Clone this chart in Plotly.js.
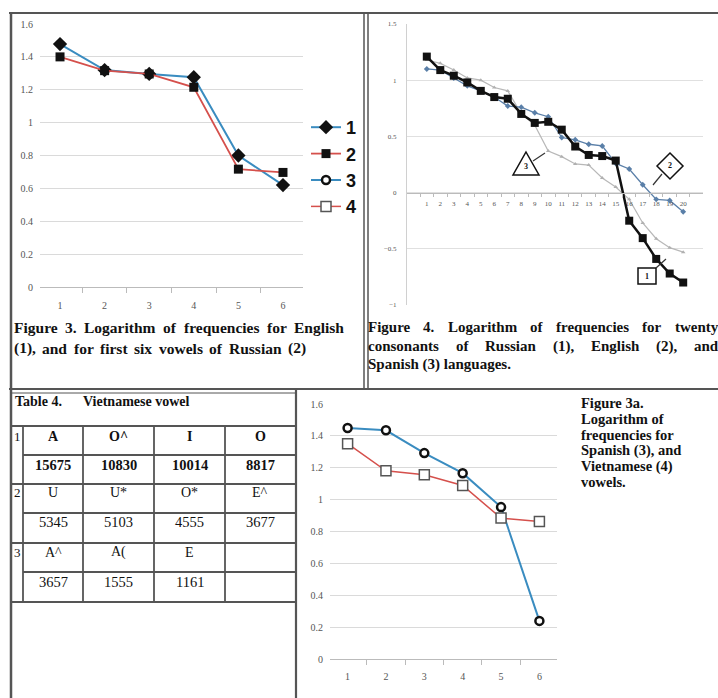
<!DOCTYPE html>
<html><head><meta charset="utf-8">
<script src="https://cdn.plot.ly/plotly-3.0.1.min.js"></script>
<style>html,body{margin:0;padding:0;background:#fff}#chart{width:718px;height:698px}</style>
</head><body><div id="chart"></div>
<script>
// ---------- DATA ----------
// Figure 3: first six vowels
const vowelRanks = ['1','2','3','4','5','6'];
const english = [1.478, 1.320, 1.296, 1.276, 0.800, 0.620];
const russianV = [1.400, 1.316, 1.296, 1.215, 0.717, 0.697];
// Figure 3a
const spanishV = [1.449, 1.435, 1.292, 1.166, 0.953, 0.239];
const vietnameseV = [1.351, 1.181, 1.156, 1.089, 0.884, 0.863];
// Figure 4: twenty consonants
const consRanks = ['1','2','3','4','5','6','7','8','9','10','11','12','13','14','15','16','17','18','19','20'];
const russianC = [1.21, 1.09, 1.04, 0.98, 0.905, 0.85, 0.835, 0.70, 0.62, 0.63, 0.56, 0.41, 0.335, 0.325, 0.285, -0.25, -0.405, -0.59, -0.72, -0.80];
const englishC = [1.10, 1.09, 1.02, 0.95, 0.905, 0.85, 0.77, 0.76, 0.71, 0.675, 0.49, 0.47, 0.43, 0.415, 0.26, 0.21, 0.07, -0.06, -0.07, -0.17];
const spanishC = [1.18, 1.15, 1.09, 1.02, 1.00, 0.935, 0.905, 0.70, 0.60, 0.37, 0.32, 0.255, 0.245, 0.13, 0.05, -0.06, -0.27, -0.41, -0.49, -0.53];
// Table 4
const tableTitle = 'Table 4.';
const tableSubtitle = 'Vietnamese vowel';
const tableGroups = ['1','2','3'];
const tableVowels = [['A','O^','I','O'],['U','U*','O*','E^'],['A^','A(','E','']];
const tableCounts = [['15675','10830','10014','8817'],['5345','5103','4555','3677'],['3657','1555','1161','']];
// Captions
const cap3 = ['Figure 3. Logarithm of frequencies for English', '(1), and for  first six vowels of Russian (2)'];
const cap4 = ['Figure 4. Logarithm of frequencies for twenty', 'consonants of Russian (1), English (2), and', 'Spanish (3) languages.'];
const cap3a = ['Figure 3a.', 'Logarithm of', 'frequencies for', 'Spanish (3), and', 'Vietnamese (4)', 'vowels.'];

// ---------- helpers ----------
const W = 718, H = 698;
const px = x => x / W;
const py = y => 1 - y / H;
const SERIF = 'Liberation Serif, Times New Roman, serif';
const BORDER = '#555';
function line(x0, y0, x1, y1, w, c) {
  return {type:'line', xref:'paper', yref:'paper', x0:px(x0), y0:py(y0), x1:px(x1), y1:py(y1),
          line:{color:c || BORDER, width:w || 1.5}, layer:'above'};
}
function txt(x, y, text, size, bold, anchor, color) {
  return {xref:'paper', yref:'paper', x:px(x), y:py(y), text:text, showarrow:false,
          xanchor:anchor || 'center', yanchor:'middle', borderpad:0,
          font:{family:SERIF, size:size || 13, color:color || '#111', weight: bold ? 'bold' : 'normal'}};
}
const ctx = document.createElement('canvas').getContext('2d');
function measure(s, size, bold) {
  ctx.font = (bold ? 'bold ' : '') + size + 'px "Liberation Serif"';
  return ctx.measureText(s).width;
}
function justified(lineText, x0, x1, y, size) {
  const words = lineText.split(/\s+/);
  const widths = words.map(w => measure(w, size, true));
  const total = widths.reduce((a, b) => a + b, 0);
  const gap = (x1 - x0 - total) / (words.length - 1);
  const out = []; let x = x0;
  words.forEach((w, i) => { out.push(txt(x, y, w, size, true, 'left')); x += widths[i] + gap; });
  return out;
}

const BLUE = '#3a8cc0', RED = '#d5504c';
const tickFont = {family:SERIF, size:10, color:'#555'};

// ---------- traces ----------
const traces = [
  {x:vowelRanks, y:english, name:'1', xaxis:'x', yaxis:'y', mode:'lines+markers',
   line:{color:BLUE, width:2}, marker:{symbol:'diamond', size:11, color:'#111'}},
  {x:vowelRanks, y:russianV, name:'2', xaxis:'x', yaxis:'y', mode:'lines+markers',
   line:{color:RED, width:1.8}, marker:{symbol:'square', size:9, color:'#111'}},
  {x:vowelRanks, y:spanishV, name:'3', xaxis:'x3', yaxis:'y3', mode:'lines+markers',
   line:{color:BLUE, width:2}, marker:{symbol:'circle', size:8, color:'#fff', line:{color:'#111', width:2.5}}},
  {x:vowelRanks, y:vietnameseV, name:'4', xaxis:'x3', yaxis:'y3', mode:'lines+markers',
   line:{color:RED, width:1.5}, marker:{symbol:'square', size:10, color:'#fff', line:{color:'#555', width:1.5}}},
  {x:consRanks, y:spanishC, name:'Spanish', xaxis:'x2', yaxis:'y2', mode:'lines+markers', showlegend:false,
   line:{color:'#b8b8b8', width:1.2}, marker:{symbol:'triangle-up', size:4, color:'#b0b0b0'}},
  {x:consRanks, y:englishC, name:'English', xaxis:'x2', yaxis:'y2', mode:'lines+markers', showlegend:false,
   line:{color:'#5a7fa8', width:1.3}, marker:{symbol:'diamond', size:4.5, color:'#5a7fa8'}},
  {x:consRanks, y:russianC, name:'Russian', xaxis:'x2', yaxis:'y2', mode:'lines+markers', showlegend:false,
   line:{color:'#111', width:2.5}, marker:{symbol:'square', size:8, color:'#111'}}
];

// ---------- shapes ----------
const shapes = [
  line(9, 13, 718, 13, 2),
  line(11, 12, 11, 698, 2.5),
  line(364, 13, 364, 390, 1.5), line(368, 13, 368, 390, 1.5),
  line(9, 389, 718, 389, 2), line(11, 393, 296, 393, 1),
  line(296, 389, 296, 698, 2.2),
  // table grid
  line(11, 426, 296, 426, 1.8), line(11, 484, 296, 484, 1.8), line(11, 543, 296, 543, 1.8), line(11, 602, 296, 602, 1.8),
  line(23, 455, 296, 455, 1.8), line(23, 513, 296, 513, 1.8), line(23, 572, 296, 572, 1.8),
  line(23, 426, 23, 602, 1.8), line(83, 426, 83, 602, 1.8), line(154, 426, 154, 602, 1.8), line(225, 426, 225, 602, 1.8),
  // figure 4 callouts
  {type:'path', xref:'paper', yref:'paper', path:`M ${px(526)} ${py(152)} L ${px(539)} ${py(175)} L ${px(513)} ${py(175)} Z`, line:{color:'#111', width:1.5}, fillcolor:'#fff', layer:'above'},
  line(533, 161, 545, 153, 1.2, '#333'),
  {type:'path', xref:'paper', yref:'paper', path:`M ${px(670)} ${py(153)} L ${px(683)} ${py(166)} L ${px(670)} ${py(179)} L ${px(657)} ${py(166)} Z`, line:{color:'#111', width:1.5}, fillcolor:'#fff', layer:'above'},
  line(662, 174, 653, 185, 1.2, '#333'),
  {type:'rect', xref:'paper', yref:'paper', x0:px(638), y0:py(268), x1:px(656), y1:py(284), line:{color:'#111', width:1.5}, fillcolor:'#fff', layer:'above'},
  line(656, 268, 666, 259, 1.2, '#333')
];

// ---------- annotations ----------
let ann = [];
ann.push(txt(526, 167, '3', 8, true), txt(670, 166, '2', 8, true), txt(647, 276, '1', 8, true));
// captions
ann = ann.concat(justified(cap3[0], 13, 343, 328, 15.5));
ann = ann.concat(justified(cap3[1], 13, 305, 348, 15.5));
ann = ann.concat(justified(cap4[0], 367, 717, 327, 15));
ann = ann.concat(justified(cap4[1], 367, 717, 346, 15));
ann.push(txt(367, 365, cap4[2], 15, true, 'left'));
cap3a.forEach((s, i) => ann.push(txt(580, 403 + i * 15.8, s, 14.5, true, 'left')));
// table
ann.push(txt(14, 401, tableTitle, 14, true, 'left'), txt(82, 401, tableSubtitle, 14, true, 'left'));
const colC = [53, 118.5, 189.5, 260];
const rowV = [436, 492, 552], rowN = [465, 522, 582];
tableGroups.forEach((g, r) => {
  ann.push(txt(17, rowV[r], g, 13, false));
  tableVowels[r].forEach((v, c) => { if (v) ann.push(txt(colC[c], rowV[r], v, 14, r === 0)); });
  tableCounts[r].forEach((v, c) => { if (v) ann.push(txt(colC[c], rowN[r], v, 14.5, r === 0)); });
});

// ---------- layout ----------
const layout = {
  width:W, height:H, margin:{l:0, r:0, t:0, b:0}, paper_bgcolor:'#fff', plot_bgcolor:'rgba(0,0,0,0)',
  showlegend:true,
  legend:{x:px(306), y:py(109), xanchor:'left', yanchor:'top', bgcolor:'rgba(0,0,0,0)',
          font:{family:'Liberation Sans, Arial, sans-serif', size:18, color:'#111', weight:'bold'}, tracegroupgap:0},
  xaxis:{domain:[px(40), px(303)], anchor:'y', type:'category', tickson:'boundaries', ticks:'outside', ticklen:5,
         tickcolor:'#bbb', showline:true, linecolor:'#bbb', showgrid:false, tickfont:tickFont, ticklabelstandoff:9, fixedrange:true},
  yaxis:{domain:[py(287), py(24)], anchor:'x', range:[0, 1.6], dtick:0.2, gridcolor:'#dadada',
         zeroline:false, showline:false, ticks:'', tickfont:tickFont, ticklabelstandoff:6},
  xaxis2:{domain:[px(407), px(703)], anchor:'free', position:py(192.6), type:'category', tickson:'boundaries',
          ticks:'outside', ticklen:3, tickcolor:'#bbb', showline:true, linecolor:'#bbb', showgrid:false, tickangle:0,
          tickfont:{family:SERIF, size:7, color:'#555'}, ticklabelstandoff:4},
  yaxis2:{domain:[py(305), py(24)], anchor:'x2', range:[-1, 1.5], dtick:0.5, gridcolor:'#e0e0e0', zeroline:false,
          showline:true, linecolor:'#d0d0d0', ticks:'', tickfont:{family:SERIF, size:7, color:'#555'}, ticklabelstandoff:8},
  xaxis3:{domain:[px(330), px(557)], anchor:'y3', type:'category', tickson:'boundaries', ticks:'outside', ticklen:5,
          tickcolor:'#bbb', showline:true, linecolor:'#bbb', showgrid:false, tickfont:tickFont, ticklabelstandoff:8},
  yaxis3:{domain:[py(659), py(404)], anchor:'x3', range:[0, 1.6], dtick:0.2, gridcolor:'#dadada', zeroline:false,
          showline:false, ticks:'', tickfont:tickFont, ticklabelstandoff:6},
  shapes:shapes, annotations:ann
};
Plotly.newPlot('chart', traces, layout, {staticPlot:true, displayModeBar:false});
</script></body></html>
